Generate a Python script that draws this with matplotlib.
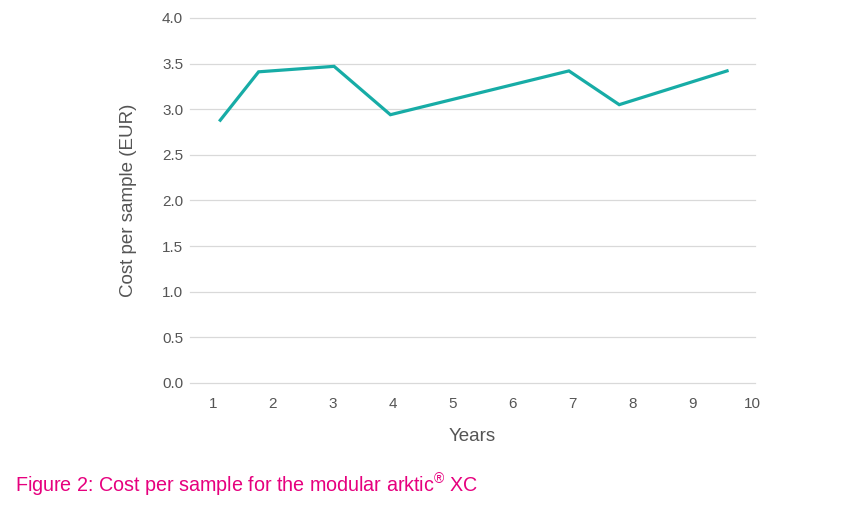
import matplotlib
matplotlib.use('Agg')
import matplotlib.pyplot as plt

plt.rcParams['font.family'] = ['Liberation Sans', 'DejaVu Sans']
plt.rcParams['mathtext.fontset'] = 'custom'
plt.rcParams['mathtext.rm'] = 'Liberation Sans'

# values
years = [1.12, 1.76, 3.02, 3.96, 6.94, 7.78, 9.58]
cost = [2.88, 3.41, 3.47, 2.94, 3.42, 3.05, 3.42]
xticks = [1, 2, 3, 4, 5, 6, 7, 8, 9, 10]
yticks = [0.0, 0.5, 1.0, 1.5, 2.0, 2.5, 3.0, 3.5, 4.0]
caption = r'Figure 2: Cost per sample for the modular arktic$^{\circledR}$ XC'

fig = plt.figure(figsize=(8.41, 5.05), dpi=100)
ax = fig.add_axes([0.226, 0.2416, 0.672, 0.7228])

ax.plot(years, cost, color='#17aca6', linewidth=2.3, solid_joinstyle='miter', clip_on=False, zorder=3)

ax.set_xlim(0.616, 10.05)
ax.set_ylim(0, 4)
ax.set_xticks(xticks)
ax.set_yticks(yticks)
ax.set_yticklabels(['{0:.1f}'.format(v) for v in yticks])
ax.grid(axis='y', color='#d9d9d9', linewidth=0.9)
for gl in ax.get_ygridlines():
    gl.set_clip_on(False)
ax.set_axisbelow(True)
for s in ax.spines.values():
    s.set_visible(False)
ax.tick_params(axis='both', length=0, labelsize=11, labelcolor='#555555')
ax.tick_params(axis='y', pad=5)
ax.tick_params(axis='x', pad=10)

ax.set_xlabel('Years', fontsize=13.5, color='#555555', labelpad=12)
ax.set_ylabel('Cost per sample (EUR)', fontsize=13.5, color='#555555', labelpad=18)

fig.text(0.018, 0.024, caption, fontsize=14.2, color='#e6007e')

fig.savefig('out.png', dpi=100)
